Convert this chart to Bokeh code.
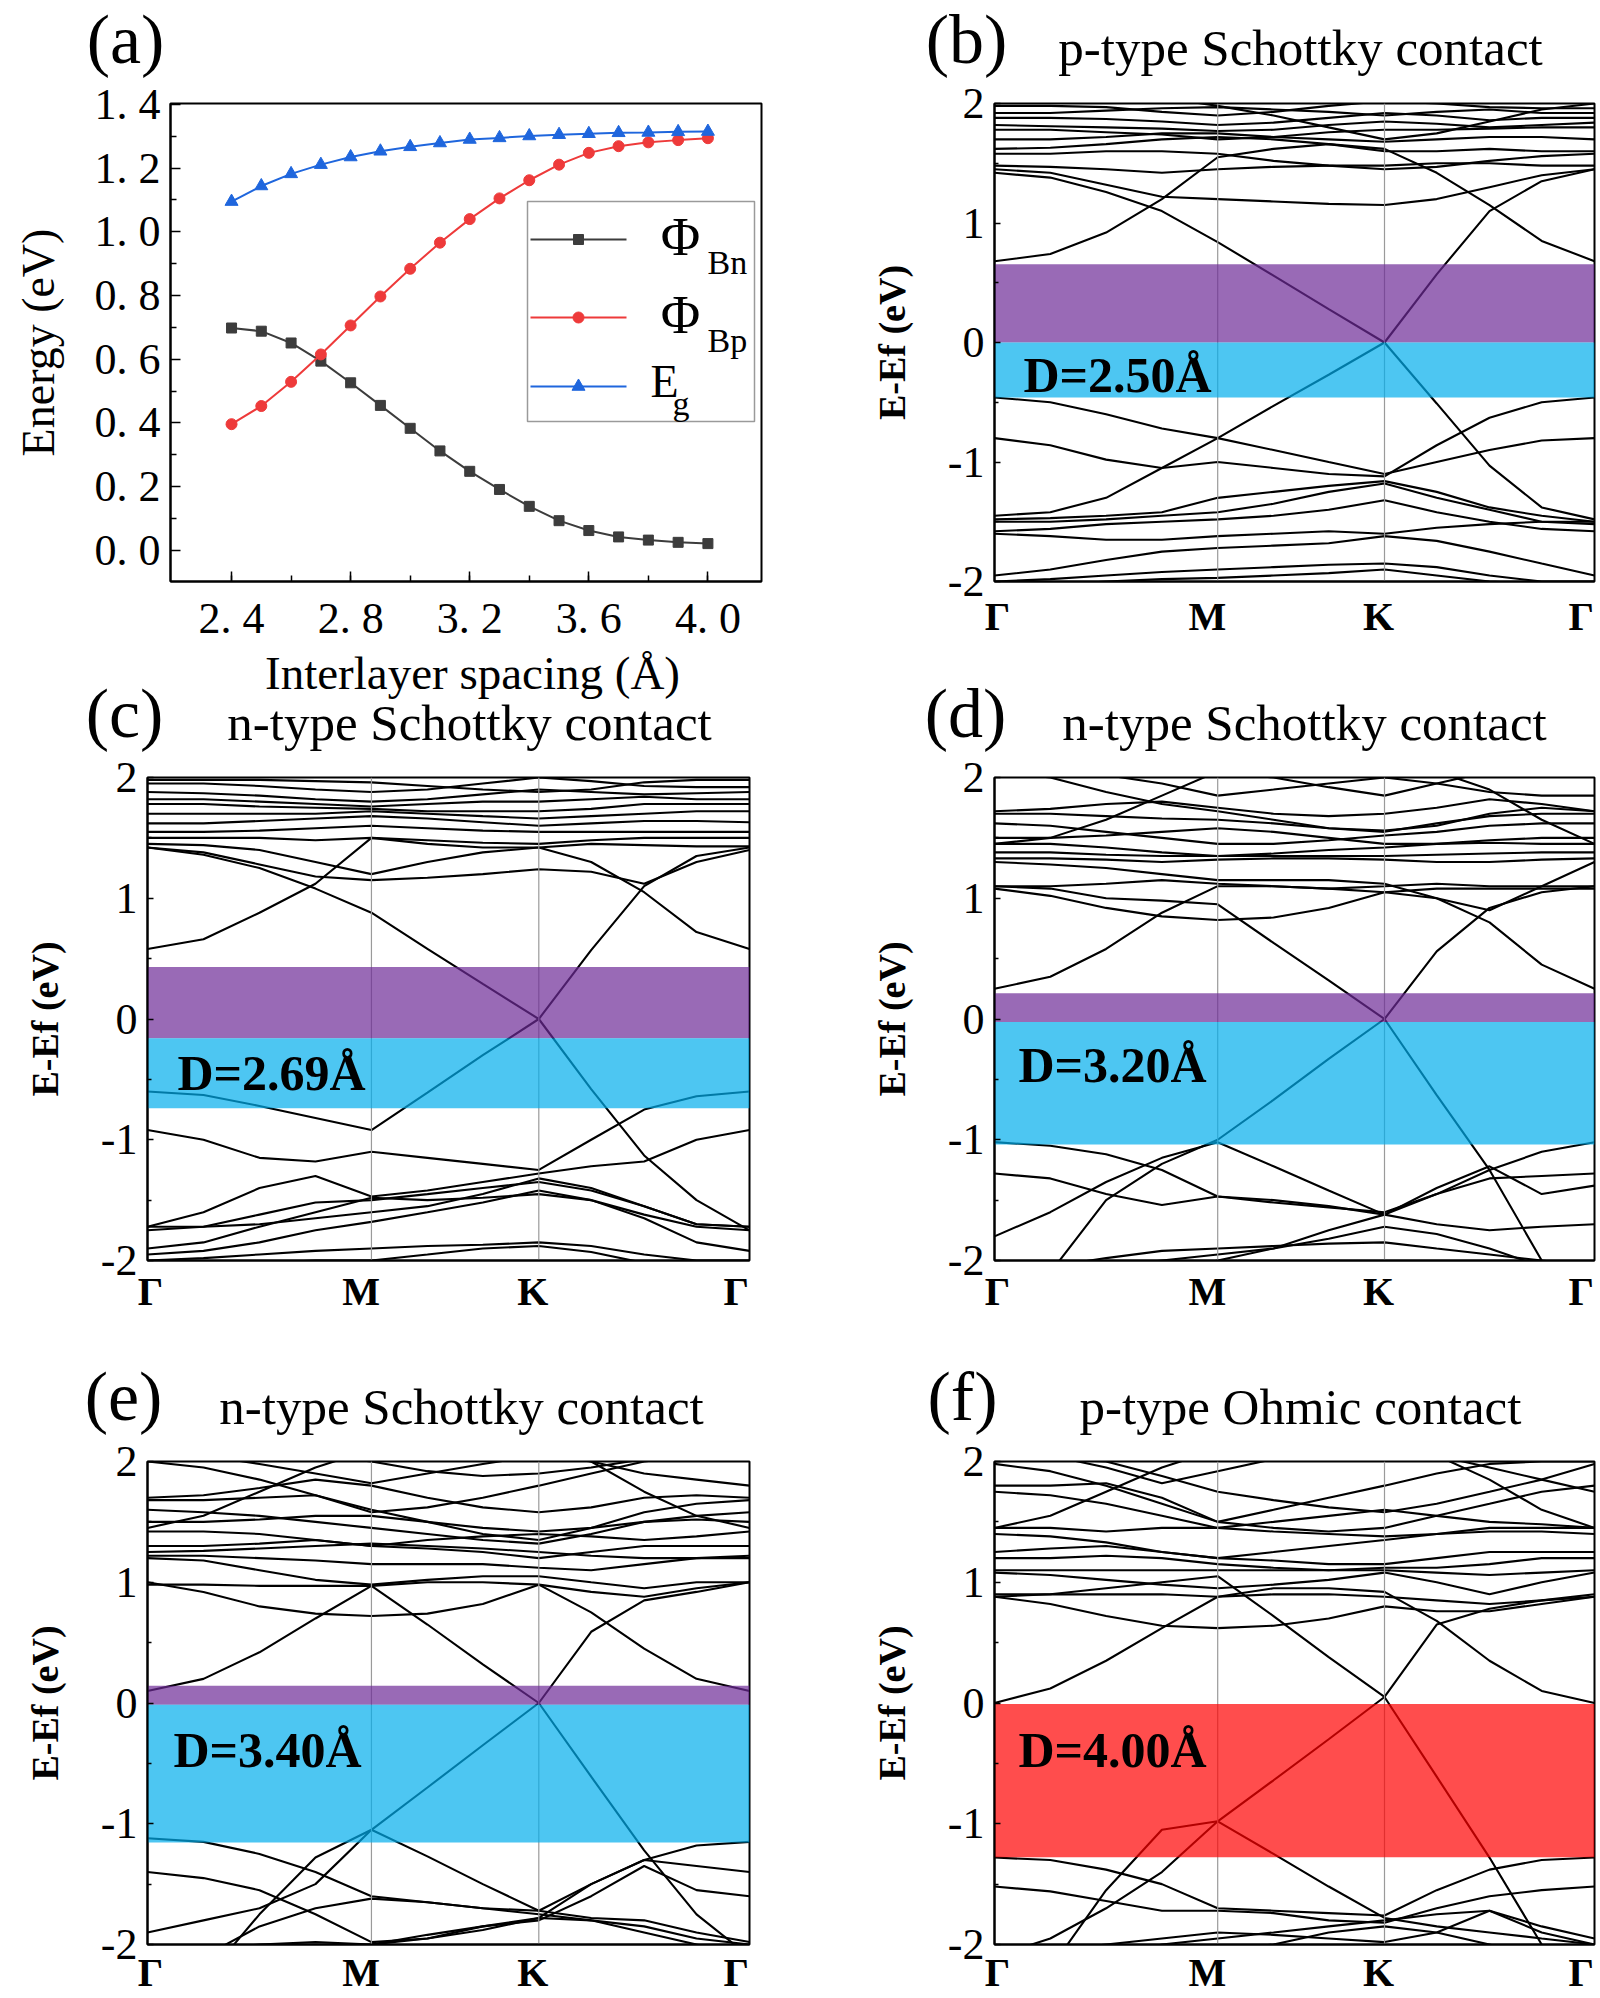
import math
from bokeh.plotting import figure
from bokeh.layouts import column, row
from bokeh.models import Range1d, Label, FixedTicker
from bokeh.embed import file_html
from bokeh.resources import INLINE

# ---------------- data: panel (a) ----------------
spacing = [2.4, 2.5, 2.6, 2.7, 2.8, 2.9, 3.0, 3.1, 3.2, 3.3, 3.4, 3.5, 3.6, 3.7, 3.8, 3.9, 4.0]
phi_bn = [0.698, 0.688, 0.651, 0.594, 0.526, 0.455, 0.383, 0.312, 0.248, 0.191, 0.138,
          0.093, 0.062, 0.042, 0.032, 0.025, 0.021]
phi_bp = [0.396, 0.453, 0.529, 0.615, 0.706, 0.797, 0.884, 0.966, 1.040, 1.105, 1.162,
          1.211, 1.248, 1.269, 1.281, 1.288, 1.294]
e_gap = [1.095, 1.144, 1.182, 1.211, 1.235, 1.253, 1.267, 1.279, 1.290, 1.295, 1.301,
         1.305, 1.308, 1.311, 1.312, 1.314, 1.315]
x_ticks_a = [2.4, 2.8, 3.2, 3.6, 4.0]
x_tick_labels_a = ["2. 4", "2. 8", "3. 2", "3. 6", "4. 0"]
y_ticks_a = [0.0, 0.2, 0.4, 0.6, 0.8, 1.0, 1.2, 1.4]
y_tick_labels_a = ["0. 0", "0. 2", "0. 4", "0. 6", "0. 8", "1. 0", "1. 2", "1. 4"]

# ---------------- data: band structures ----------------
k_lines = [0.372, 0.65]                       # M and K high-symmetry lines
k_label_pos = [0.005, 0.355, 0.64, 0.978]     # where the path labels sit
k_tick_labels = ["\u0393", "M", "K", "\u0393"]
k_grid = [0.0, 0.093, 0.186, 0.279, 0.372, 0.465, 0.557, 0.65, 0.737, 0.825, 0.912, 1.0]
e_ticks = [-2.0, -1.0, 0.0, 1.0, 2.0]
e_tick_labels = ["-2", "-1", "0", "1", "2"]

bands_b = [
    [0.68, 0.74, 0.92, 1.20, 1.55, 1.62, 1.66, 1.62, 1.42, 1.15, 0.85, 0.68],
    [1.42, 1.38, 1.26, 1.10, 0.84, 0.56, 0.28, 0.00, 0.57, 1.10, 1.35, 1.45],
    [1.45, 1.42, 1.32, 1.22, 1.20, 1.18, 1.16, 1.15, 1.20, 1.30, 1.40, 1.45],
    [1.48, 1.47, 1.45, 1.42, 1.45, 1.47, 1.48, 1.48, 1.50, 1.50, 1.48, 1.48],
    [1.58, 1.58, 1.60, 1.60, 1.58, 1.52, 1.48, 1.45, 1.47, 1.52, 1.56, 1.58],
    [1.62, 1.63, 1.66, 1.70, 1.72, 1.70, 1.66, 1.60, 1.60, 1.62, 1.60, 1.60],
    [1.70, 1.70, 1.72, 1.75, 1.75, 1.72, 1.70, 1.68, 1.70, 1.72, 1.72, 1.70],
    [1.78, 1.78, 1.76, 1.74, 1.70, 1.72, 1.76, 1.78, 1.78, 1.79, 1.80, 1.80],
    [1.82, 1.81, 1.80, 1.79, 1.77, 1.78, 1.82, 1.85, 1.83, 1.80, 1.82, 1.84],
    [1.88, 1.88, 1.87, 1.85, 1.82, 1.84, 1.88, 1.92, 1.90, 1.86, 1.88, 1.88],
    [1.92, 1.92, 1.94, 1.96, 1.97, 1.95, 1.93, 1.90, 1.93, 1.95, 1.92, 1.92],
    [1.98, 1.98, 1.97, 1.93, 1.90, 1.93, 1.98, 2.02, 2.00, 1.97, 1.96, 1.96],
    [2.10, 2.10, 2.10, 2.05, 1.98, 1.90, 1.80, 1.70, 1.75, 1.85, 1.95, 2.00],
    [-0.46, -0.50, -0.60, -0.72, -0.80, -0.53, -0.27, 0.00, -0.51, -1.03, -1.38, -1.48],
    [-0.80, -0.86, -0.98, -1.05, -1.00, -1.05, -1.10, -1.12, -0.86, -0.63, -0.50, -0.46],
    [-1.45, -1.42, -1.30, -1.05, -0.80, -0.90, -1.00, -1.10, -1.00, -0.90, -0.82, -0.80],
    [-1.48, -1.47, -1.45, -1.42, -1.30, -1.25, -1.20, -1.16, -1.25, -1.38, -1.45, -1.50],
    [-1.50, -1.50, -1.48, -1.45, -1.42, -1.35, -1.25, -1.18, -1.30, -1.40, -1.50, -1.52],
    [-1.58, -1.56, -1.52, -1.50, -1.48, -1.45, -1.40, -1.32, -1.42, -1.50, -1.56, -1.58],
    [-1.60, -1.62, -1.65, -1.65, -1.62, -1.60, -1.58, -1.60, -1.55, -1.52, -1.50, -1.50],
    [-1.95, -1.90, -1.82, -1.75, -1.72, -1.70, -1.68, -1.62, -1.66, -1.75, -1.85, -1.95],
    [-2.00, -1.98, -1.95, -1.92, -1.90, -1.88, -1.86, -1.85, -1.88, -1.95, -2.00, -2.00],
    [-2.05, -2.03, -2.00, -1.98, -1.97, -1.95, -1.93, -1.90, -1.95, -2.00, -2.02, -2.05],
]

bands_c = [
    [0.58, 0.66, 0.88, 1.12, 1.50, 1.45, 1.42, 1.42, 1.30, 1.05, 0.72, 0.58],
    [1.42, 1.36, 1.25, 1.08, 0.88, 0.58, 0.29, 0.00, 0.57, 1.10, 1.35, 1.42],
    [1.42, 1.38, 1.28, 1.18, 1.15, 1.17, 1.20, 1.24, 1.22, 1.12, 1.30, 1.40],
    [1.45, 1.44, 1.40, 1.30, 1.20, 1.30, 1.38, 1.42, 1.45, 1.44, 1.43, 1.43],
    [1.50, 1.50, 1.50, 1.48, 1.50, 1.48, 1.46, 1.45, 1.48, 1.50, 1.50, 1.50],
    [1.55, 1.55, 1.56, 1.58, 1.60, 1.58, 1.56, 1.55, 1.55, 1.55, 1.55, 1.55],
    [1.62, 1.62, 1.64, 1.66, 1.68, 1.66, 1.63, 1.60, 1.62, 1.64, 1.64, 1.63],
    [1.70, 1.70, 1.70, 1.70, 1.72, 1.70, 1.68, 1.66, 1.68, 1.70, 1.72, 1.72],
    [1.78, 1.78, 1.76, 1.75, 1.74, 1.72, 1.72, 1.72, 1.74, 1.78, 1.78, 1.78],
    [1.82, 1.82, 1.80, 1.78, 1.76, 1.78, 1.80, 1.80, 1.82, 1.84, 1.82, 1.82],
    [1.88, 1.87, 1.85, 1.82, 1.80, 1.82, 1.86, 1.90, 1.88, 1.86, 1.87, 1.88],
    [1.95, 1.95, 1.93, 1.90, 1.88, 1.90, 1.95, 2.00, 1.97, 1.93, 1.92, 1.92],
    [1.98, 1.98, 1.98, 1.97, 1.96, 1.93, 1.90, 1.88, 1.90, 1.96, 1.98, 1.98],
    [-0.60, -0.63, -0.72, -0.82, -0.92, -0.61, -0.30, 0.00, -0.58, -1.13, -1.50, -1.75],
    [-0.92, -1.00, -1.15, -1.18, -1.10, -1.15, -1.20, -1.25, -1.00, -0.75, -0.64, -0.60],
    [-1.72, -1.60, -1.40, -1.30, -1.47, -1.42, -1.35, -1.28, -1.22, -1.18, -1.00, -0.92],
    [-1.75, -1.72, -1.62, -1.52, -1.50, -1.45, -1.40, -1.35, -1.42, -1.55, -1.70, -1.72],
    [-1.90, -1.85, -1.72, -1.60, -1.48, -1.50, -1.48, -1.45, -1.50, -1.62, -1.72, -1.75],
    [-1.95, -1.92, -1.85, -1.75, -1.68, -1.60, -1.52, -1.42, -1.50, -1.65, -1.85, -1.92],
    [-2.00, -1.98, -1.95, -1.92, -1.90, -1.88, -1.87, -1.85, -1.88, -1.95, -2.00, -2.00],
    [-2.05, -2.05, -2.02, -2.00, -2.00, -1.95, -1.90, -1.88, -1.93, -2.02, -2.05, -2.05],
    [-1.72, -1.72, -1.70, -1.65, -1.60, -1.55, -1.45, -1.32, -1.40, -1.55, -1.70, -1.72],
]

bands_d = [
    [0.25, 0.35, 0.58, 0.88, 1.10, 1.10, 1.08, 1.05, 1.00, 0.80, 0.45, 0.25],
    [1.10, 1.08, 1.00, 0.98, 0.95, 0.63, 0.32, 0.00, 0.56, 0.92, 1.05, 1.10],
    [1.08, 1.02, 0.92, 0.85, 0.82, 0.84, 0.92, 1.05, 1.08, 1.08, 1.08, 1.08],
    [1.10, 1.10, 1.12, 1.15, 1.12, 1.10, 1.08, 1.10, 1.12, 1.10, 1.10, 1.10],
    [1.30, 1.28, 1.25, 1.20, 1.15, 1.15, 1.15, 1.12, 1.00, 0.90, 1.10, 1.30],
    [1.33, 1.33, 1.32, 1.30, 1.32, 1.33, 1.33, 1.32, 1.30, 1.30, 1.32, 1.33],
    [1.38, 1.38, 1.36, 1.35, 1.35, 1.35, 1.35, 1.35, 1.36, 1.37, 1.38, 1.38],
    [1.45, 1.45, 1.42, 1.38, 1.35, 1.37, 1.40, 1.42, 1.45, 1.46, 1.45, 1.45],
    [1.50, 1.50, 1.52, 1.55, 1.58, 1.55, 1.50, 1.45, 1.45, 1.48, 1.50, 1.50],
    [1.62, 1.60, 1.55, 1.50, 1.45, 1.45, 1.48, 1.52, 1.55, 1.60, 1.62, 1.62],
    [1.70, 1.70, 1.68, 1.66, 1.65, 1.62, 1.58, 1.55, 1.62, 1.68, 1.70, 1.70],
    [1.72, 1.74, 1.78, 1.80, 1.75, 1.70, 1.68, 1.70, 1.75, 1.82, 1.78, 1.72],
    [2.05, 2.00, 1.88, 1.78, 1.72, 1.65, 1.58, 1.56, 1.60, 1.70, 1.75, 1.72],
    [2.10, 2.08, 2.02, 1.95, 1.85, 1.90, 1.95, 2.00, 1.95, 1.88, 1.85, 1.85],
    [2.10, 2.10, 2.10, 2.10, 2.05, 2.00, 1.92, 1.85, 1.95, 2.05, 2.10, 2.10],
    [1.45, 1.50, 1.65, 1.85, 2.05, 2.10, 2.10, 2.10, 2.05, 1.90, 1.65, 1.45],
    [-2.60, -2.10, -1.50, -1.20, -1.00, -0.67, -0.33, 0.00, -0.63, -1.25, -2.00, -2.50],
    [-1.02, -1.05, -1.12, -1.25, -1.47, -1.52, -1.56, -1.60, -1.45, -1.25, -1.10, -1.02],
    [-1.28, -1.32, -1.45, -1.54, -1.47, -1.50, -1.55, -1.62, -1.45, -1.32, -1.30, -1.28],
    [-1.80, -1.60, -1.35, -1.15, -1.02, -1.22, -1.42, -1.62, -1.70, -1.75, -1.72, -1.70],
    [-2.10, -2.05, -1.98, -1.92, -1.90, -1.88, -1.86, -1.85, -1.90, -1.95, -2.00, -2.05],
    [-2.20, -2.15, -2.05, -2.00, -1.95, -1.90, -1.82, -1.72, -1.78, -1.90, -2.05, -2.20],
    [-2.30, -2.25, -2.20, -2.10, -2.00, -1.90, -1.75, -1.62, -1.40, -1.22, -1.45, -1.38],
]

bands_e = [
    [0.10, 0.20, 0.42, 0.70, 0.97, 1.00, 1.00, 0.98, 0.75, 0.45, 0.20, 0.10],
    [0.98, 0.98, 0.97, 0.97, 0.97, 0.65, 0.32, 0.00, 0.59, 0.85, 0.92, 1.00],
    [1.00, 0.92, 0.80, 0.74, 0.72, 0.74, 0.82, 0.98, 0.92, 0.88, 0.95, 1.00],
    [1.20, 1.18, 1.10, 1.02, 0.98, 1.02, 1.05, 1.05, 1.00, 0.95, 1.00, 1.00],
    [1.22, 1.22, 1.20, 1.18, 1.15, 1.15, 1.15, 1.12, 1.10, 1.15, 1.20, 1.22],
    [1.25, 1.26, 1.28, 1.30, 1.32, 1.30, 1.28, 1.25, 1.22, 1.20, 1.20, 1.20],
    [1.30, 1.30, 1.32, 1.35, 1.30, 1.28, 1.25, 1.20, 1.25, 1.30, 1.30, 1.30],
    [1.42, 1.42, 1.40, 1.35, 1.30, 1.35, 1.38, 1.40, 1.38, 1.35, 1.38, 1.42],
    [1.50, 1.50, 1.52, 1.55, 1.55, 1.50, 1.45, 1.42, 1.45, 1.50, 1.52, 1.50],
    [1.60, 1.58, 1.55, 1.50, 1.45, 1.40, 1.35, 1.32, 1.40, 1.50, 1.55, 1.58],
    [1.68, 1.68, 1.70, 1.72, 1.60, 1.50, 1.40, 1.35, 1.45, 1.58, 1.65, 1.68],
    [1.70, 1.72, 1.78, 1.85, 1.80, 1.70, 1.62, 1.58, 1.62, 1.70, 1.72, 1.70],
    [2.00, 1.95, 1.85, 1.72, 1.58, 1.62, 1.70, 1.80, 1.90, 2.00, 2.05, 2.05],
    [2.10, 2.05, 1.98, 1.90, 1.82, 1.90, 1.98, 2.05, 2.00, 1.90, 1.85, 1.80],
    [2.10, 2.10, 2.10, 2.05, 2.00, 1.92, 1.88, 1.90, 1.95, 2.02, 2.05, 2.05],
    [1.45, 1.55, 1.75, 1.95, 2.10, 2.10, 2.10, 2.10, 2.00, 1.75, 1.55, 1.45],
    [-2.80, -2.30, -1.75, -1.28, -1.05, -0.70, -0.35, 0.00, -0.61, -1.22, -1.75, -2.10],
    [-1.12, -1.15, -1.25, -1.40, -1.60, -1.65, -1.70, -1.72, -1.50, -1.30, -1.18, -1.15],
    [-1.40, -1.45, -1.55, -1.75, -1.98, -1.95, -1.88, -1.78, -1.50, -1.30, -1.35, -1.40],
    [-2.20, -2.10, -1.85, -1.70, -1.62, -1.65, -1.70, -1.75, -1.80, -1.85, -1.95, -2.00],
    [-1.90, -1.80, -1.70, -1.50, -1.05, -1.27, -1.50, -1.72, -1.78, -1.80, -1.90, -1.98],
    [-2.10, -2.05, -2.00, -1.98, -2.00, -1.95, -1.85, -1.78, -1.80, -1.90, -2.00, -2.10],
    [-2.30, -2.25, -2.15, -2.05, -2.00, -1.92, -1.85, -1.80, -1.60, -1.35, -1.55, -1.60],
]

bands_f = [
    [0.00, 0.12, 0.35, 0.62, 0.88, 0.95, 0.95, 0.92, 0.68, 0.35, 0.10, 0.00],
    [0.88, 0.90, 0.95, 1.00, 1.05, 0.72, 0.38, 0.05, 0.65, 0.78, 0.85, 0.88],
    [0.88, 0.82, 0.72, 0.64, 0.62, 0.64, 0.70, 0.80, 0.76, 0.76, 0.82, 0.88],
    [0.90, 0.90, 0.90, 0.90, 0.88, 0.90, 0.90, 0.88, 0.85, 0.82, 0.85, 0.90],
    [1.08, 1.06, 1.02, 0.98, 0.95, 0.98, 1.02, 1.08, 1.00, 0.90, 1.00, 1.08],
    [1.10, 1.10, 1.10, 1.10, 1.10, 1.10, 1.10, 1.10, 1.08, 1.06, 1.08, 1.10],
    [1.20, 1.20, 1.22, 1.20, 1.15, 1.12, 1.10, 1.12, 1.12, 1.15, 1.20, 1.20],
    [1.25, 1.28, 1.30, 1.25, 1.20, 1.18, 1.15, 1.15, 1.20, 1.25, 1.25, 1.25],
    [1.40, 1.38, 1.33, 1.25, 1.20, 1.25, 1.30, 1.35, 1.40, 1.42, 1.42, 1.40],
    [1.45, 1.45, 1.42, 1.45, 1.45, 1.42, 1.40, 1.38, 1.40, 1.45, 1.45, 1.45],
    [1.75, 1.72, 1.65, 1.55, 1.45, 1.50, 1.55, 1.60, 1.55, 1.50, 1.48, 1.45],
    [1.80, 1.80, 1.82, 1.70, 1.50, 1.45, 1.42, 1.45, 1.55, 1.65, 1.75, 1.80],
    [1.98, 1.92, 1.80, 1.65, 1.50, 1.60, 1.70, 1.80, 1.90, 1.98, 2.00, 2.00],
    [2.00, 2.02, 2.00, 1.88, 1.75, 1.68, 1.62, 1.58, 1.65, 1.75, 1.85, 1.98],
    [2.10, 2.05, 1.95, 1.82, 1.92, 2.02, 2.08, 2.10, 2.05, 1.95, 1.85, 1.75],
    [1.45, 1.55, 1.75, 1.95, 2.10, 2.10, 2.10, 2.10, 2.05, 1.85, 1.60, 1.45],
    [-2.80, -2.20, -1.55, -1.05, -0.98, -0.64, -0.30, 0.05, -0.61, -1.28, -2.00, -2.30],
    [-1.28, -1.30, -1.38, -1.50, -1.70, -1.72, -1.74, -1.76, -1.55, -1.38, -1.30, -1.28],
    [-1.52, -1.56, -1.64, -1.72, -1.72, -1.74, -1.80, -1.82, -1.70, -1.60, -1.55, -1.52],
    [-2.10, -1.95, -1.70, -1.40, -0.98, -1.25, -1.52, -1.78, -1.85, -1.90, -1.95, -2.00],
    [-2.10, -2.05, -2.00, -1.95, -1.90, -1.92, -1.95, -1.98, -1.90, -1.72, -1.90, -2.00],
    [-2.30, -2.20, -2.10, -2.00, -1.95, -1.90, -1.85, -1.80, -1.75, -1.72, -1.85, -1.95],
    [-2.30, -2.30, -2.20, -2.10, -2.05, -2.00, -1.90, -1.85, -1.90, -2.00, -2.10, -2.20],
]

# barrier regions (bottom, top) and their colours
fills_b = [(0.0, 0.655), (-0.46, 0.0)]
fills_c = [(-0.16, 0.43), (-0.74, -0.16)]
fills_d = [(-0.025, 0.214), (-1.04, -0.025)]
fills_e = [(-0.014, 0.142), (-1.156, -0.014)]
fills_f = [(-1.278, -0.009)]
purple_c = "#6e2b97"
cyan_c = "#02aeec"
red_c = "#ff0101"

panel_titles = {"b": "p-type Schottky contact", "c": "n-type Schottky contact",
                "d": "n-type Schottky contact", "e": "n-type Schottky contact",
                "f": "p-type Ohmic contact"}
d_labels = {"b": "D=2.50\u00c5", "c": "D=2.69\u00c5", "d": "D=3.20\u00c5",
            "e": "D=3.40\u00c5", "f": "D=4.00\u00c5"}
d_label_e = {"b": -0.27, "c": -0.45, "d": -0.38, "e": -0.39, "f": -0.39}

SERIF = "Liberation Serif"
LETTER_PX = 70

# ---------------- layout geometry (page pixels) ----------------
TOTAL_W = 1598
LEFT_COL = (0, 860)       # page x start, width
RIGHT_COL = (860, 738)
# vertical bands: header1, row1, header2, row2, header3, row3
H1 = (0, 78)
R1 = (78, 567)
H2 = (645, 107)
R2 = (752, 564)
H3 = (1316, 120)
R3 = (1436, 561)

GEOM = {
    "a": dict(col=LEFT_COL, row=R1, fl=170, ft=103, fw=591, fh=478, xr=(2.195, 4.18), yr=(-0.098, 1.403)),
    "b": dict(col=RIGHT_COL, row=R1, fl=994, ft=103, fw=600, fh=478, xr=(0.0, 1.0), yr=(-2.0, 2.0)),
    "c": dict(col=LEFT_COL, row=R2, fl=147, ft=777, fw=602, fh=484, xr=(0.0, 1.0), yr=(-2.0, 2.0)),
    "d": dict(col=RIGHT_COL, row=R2, fl=994, ft=777, fw=600, fh=484, xr=(0.0, 1.0), yr=(-2.0, 2.0)),
    "e": dict(col=LEFT_COL, row=R3, fl=147, ft=1461, fw=602, fh=483, xr=(0.0, 1.0), yr=(-2.0, 2.0)),
    "f": dict(col=RIGHT_COL, row=R3, fl=994, ft=1461, fw=600, fh=483, xr=(0.0, 1.0), yr=(-2.0, 2.0)),
}


def to_data(g, X, Y):
    x = g["xr"][0] + (X - g["fl"]) / g["fw"] * (g["xr"][1] - g["xr"][0])
    y = g["yr"][1] - (Y - g["ft"]) / g["fh"] * (g["yr"][1] - g["yr"][0])
    return x, y


def make_fig(g):
    cx, cw = g["col"]
    ry, rh = g["row"]
    bl = g["fl"] - cx
    bt = g["ft"] - ry
    p = figure(width=cw, height=rh, x_range=Range1d(*g["xr"]), y_range=Range1d(*g["yr"]),
               output_backend="svg", toolbar_location=None,
               min_border_left=bl, min_border_right=cw - bl - g["fw"],
               min_border_top=bt, min_border_bottom=rh - bt - g["fh"])
    p.xgrid.visible = False
    p.ygrid.visible = False
    p.outline_line_color = "black"
    p.outline_line_width = 2
    p.background_fill_color = "white"
    p.border_fill_color = "white"
    for ax in (p.xaxis[0], p.yaxis[0]):
        ax.axis_line_width = 2
        ax.axis_line_color = "black"
        ax.major_tick_line_color = "black"
        ax.minor_tick_line_color = "black"
        ax.major_tick_line_width = 1.5
        ax.minor_tick_line_width = 1.5
        ax.major_label_text_font = SERIF
        ax.major_label_text_color = "black"
        ax.axis_label_text_font = SERIF
        ax.axis_label_text_color = "black"
    return p


def make_header(band):
    y0, h = band
    p = figure(width=TOTAL_W, height=h, x_range=Range1d(0, TOTAL_W), y_range=Range1d(y0 + h, y0),
               output_backend="svg", toolbar_location=None, x_axis_type=None, y_axis_type=None,
               min_border=0)
    p.grid.visible = False
    p.outline_line_color = None
    p.background_fill_color = "white"
    p.border_fill_color = "white"
    return p


def head_text(p, X, Y, text, size):
    p.add_layout(Label(x=X, y=Y, text=text, text_font=SERIF, text_font_size=f"{size}px",
                       text_color="black", text_align="center", text_baseline="middle"))


def add_text(p, g, X, Y, text, size, bold=False, align="center", baseline="middle"):
    x, y = to_data(g, X, Y)
    p.add_layout(Label(x=x, y=y, text=text, text_font=SERIF, text_font_size=f"{size}px",
                       text_font_style="bold" if bold else "normal", text_color="black",
                       text_align=align, text_baseline=baseline))


# ---------------- panel (a) ----------------
ga = GEOM["a"]
pa = make_fig(ga)
pa.xaxis[0].ticker = FixedTicker(ticks=x_ticks_a, minor_ticks=[2.4, 2.6, 2.8, 3.0, 3.2, 3.4, 3.6, 3.8, 4.0])
pa.xaxis[0].major_label_overrides = {t: s for t, s in zip(x_ticks_a, x_tick_labels_a)}
pa.yaxis[0].ticker = FixedTicker(ticks=y_ticks_a, minor_ticks=[0.1, 0.3, 0.5, 0.7, 0.9, 1.1, 1.3])
pa.yaxis[0].major_label_overrides = {t: s for t, s in zip(y_ticks_a, y_tick_labels_a)}
for ax in (pa.xaxis[0], pa.yaxis[0]):
    ax.major_tick_in = 10
    ax.major_tick_out = 0
    ax.minor_tick_in = 6
    ax.minor_tick_out = 0
    ax.major_label_text_font_size = "44px"
pa.xaxis[0].major_label_standoff = 12
pa.yaxis[0].major_label_standoff = 10
pa.yaxis[0].axis_label = "Energy (eV)"
pa.yaxis[0].axis_label_text_font_size = "46px"
pa.yaxis[0].axis_label_text_font_style = "normal"
pa.yaxis[0].axis_label_standoff = 28

series_a = [(phi_bn, "#3c3c3c", "square", 10), (phi_bp, "#ee3a3a", "circle", 11), (e_gap, "#1f66dd", "triangle", 13)]
for ys, col, mk, sz in series_a:
    pa.line(spacing, ys, line_color=col, line_width=2)
    pa.scatter(spacing, ys, marker=mk, size=sz, fill_color=col, line_color=col)

# legend (drawn by hand to get subscripts)
lx0, ly0 = to_data(ga, 527, 201)
lx1, ly1 = to_data(ga, 754, 421)
pa.quad(left=[lx0], right=[lx1], top=[ly0], bottom=[ly1], fill_color="white", line_color="#9a9a9a", line_width=1.5)
leg_rows = [239, 317, 386]
for (ys, col, mk, sz), ry in zip(series_a, leg_rows):
    x0, yy = to_data(ga, 530, ry)
    x1, _ = to_data(ga, 626, ry)
    xm, _ = to_data(ga, 578, ry)
    pa.line([x0, x1], [yy, yy], line_color=col, line_width=2)
    pa.scatter([xm], [yy], marker=mk, size=sz, fill_color=col, line_color=col)
add_text(pa, ga, 680, 236, "\u03a6", 54)
add_text(pa, ga, 707, 262, "Bn", 34, align="left")
add_text(pa, ga, 680, 314, "\u03a6", 54)
add_text(pa, ga, 707, 340, "Bp", 34, align="left")
add_text(pa, ga, 650, 381, "E", 46, align="left")
add_text(pa, ga, 672, 403, "g", 34, align="left")


# ---------------- band panels ----------------
def band_panel(key, bands, fills, colors, dlab_x, x_standoff):
    g = GEOM[key]
    p = make_fig(g)
    p.xaxis[0].ticker = FixedTicker(ticks=k_label_pos, minor_ticks=[])
    p.xaxis[0].major_label_overrides = {t: s for t, s in zip(k_label_pos, k_tick_labels)}
    p.xaxis[0].major_tick_in = 0
    p.xaxis[0].major_tick_out = 0
    p.xaxis[0].major_label_text_font_size = "40px"
    p.xaxis[0].major_label_text_font_style = "bold"
    p.xaxis[0].major_label_standoff = x_standoff
    p.yaxis[0].ticker = FixedTicker(ticks=e_ticks, minor_ticks=[-1.5, -0.5, 0.5, 1.5])
    p.yaxis[0].major_label_overrides = {t: s for t, s in zip(e_ticks, e_tick_labels)}
    p.yaxis[0].major_tick_in = 6
    p.yaxis[0].major_tick_out = 0
    p.yaxis[0].minor_tick_in = 4
    p.yaxis[0].minor_tick_out = 0
    p.yaxis[0].major_label_text_font_size = "44px"
    p.yaxis[0].major_label_standoff = 10
    p.yaxis[0].axis_label = "E-Ef (eV)"
    p.yaxis[0].axis_label_text_font_size = "38px"
    p.yaxis[0].axis_label_text_font_style = "bold"
    p.yaxis[0].axis_label_standoff = 32

    p.multi_line(xs=[k_grid] * len(bands), ys=bands, line_color="black", line_width=2.1)
    p.segment(x0=k_lines, y0=[-2, -2], x1=k_lines, y1=[2, 2], line_color="#9a9a9a", line_width=1.2)
    for (bot, top), col in zip(fills, colors):
        p.quad(left=[0.0], right=[1.0], bottom=[bot], top=[top], fill_color=col, fill_alpha=0.7, line_alpha=0)

    dx, _ = to_data(g, dlab_x, 0)
    p.add_layout(Label(x=dx, y=d_label_e[key], text=d_labels[key], text_font=SERIF, text_font_size="50px",
                       text_font_style="bold", text_color="black", text_align="left", text_baseline="middle"))
    return p


pb = band_panel("b", bands_b, fills_b, [purple_c, cyan_c], 1023, 12)
pc = band_panel("c", bands_c, fills_c, [purple_c, cyan_c], 177, 8)
pd_ = band_panel("d", bands_d, fills_d, [purple_c, cyan_c], 1018, 8)
pe = band_panel("e", bands_e, fills_e, [purple_c, cyan_c], 173, 5)
pf = band_panel("f", bands_f, fills_f, [red_c], 1018, 5)

# ---------------- header strips (panel letters, titles, x title of (a)) ----------------
h1 = make_header(H1)
head_text(h1, 125, 39, "(a)", LETTER_PX)
head_text(h1, 966, 39, "(b)", LETTER_PX)
head_text(h1, 1300, 47, panel_titles["b"], 51)

h2 = make_header(H2)
head_text(h2, 472, 672, "Interlayer spacing (\u00c5)", 47)
head_text(h2, 124, 713, "(c)", LETTER_PX)
head_text(h2, 965, 713, "(d)", LETTER_PX)
head_text(h2, 469, 722, panel_titles["c"], 51)
head_text(h2, 1304, 722, panel_titles["d"], 51)

h3 = make_header(H3)
head_text(h3, 123, 1396, "(e)", LETTER_PX)
head_text(h3, 962, 1396, "(f)", LETTER_PX)
head_text(h3, 461, 1406, panel_titles["e"], 51)
head_text(h3, 1300, 1406, panel_titles["f"], 51)

layout = column(h1, row(pa, pb, spacing=0), h2, row(pc, pd_, spacing=0), h3, row(pe, pf, spacing=0),
                spacing=0)

open("out.html", "w").write(file_html(layout, INLINE))
